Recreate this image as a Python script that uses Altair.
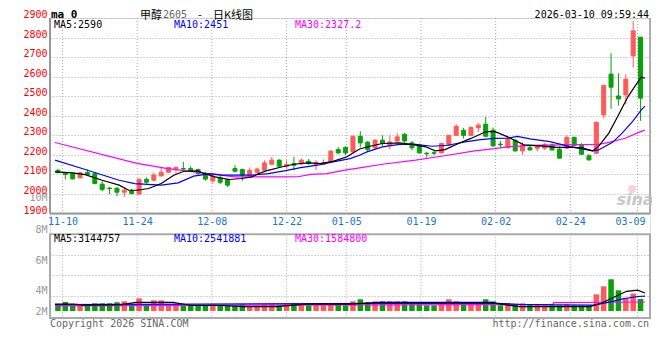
import altair as alt
import pandas as pd

# ---------------- data ----------------
# trading-day index: 0 = 2025-11-07 ... 79 = 2026-03-10
days = list(range(80))
opens = [2121, 2110, 2104, 2082, 2110, 2104, 2050, 2030, 2029, 2009,
         2015, 1999, 2075, 2070, 2092, 2111, 2127, 2130, 2130, 2125,
         2105, 2067, 2082, 2074, 2130, 2125, 2096, 2111, 2121, 2152,
         2173, 2142, 2155, 2155, 2167, 2152, 2152, 2164, 2227, 2238,
         2215, 2295, 2265, 2236, 2275, 2249, 2271, 2305, 2261, 2249,
         2208, 2211, 2210, 2249, 2300, 2326, 2300, 2338, 2357, 2326,
         2255, 2238, 2273, 2220, 2238, 2234, 2234, 2251, 2229, 2234,
         2289, 2248, 2195, 2208, 2404, 2613, 2501, 2507, 2706, 2802]
highs = [2128, 2112, 2108, 2113, 2125, 2110, 2065, 2036, 2036, 2036,
         2025, 2084, 2084, 2110, 2133, 2138, 2142, 2164, 2142, 2130,
         2113, 2096, 2092, 2079, 2147, 2130, 2135, 2135, 2172, 2190,
         2177, 2172, 2190, 2181, 2179, 2172, 2176, 2224, 2241, 2244,
         2300, 2321, 2271, 2280, 2300, 2300, 2312, 2312, 2270, 2258,
         2215, 2227, 2261, 2300, 2357, 2338, 2346, 2363, 2394, 2340,
         2271, 2294, 2282, 2265, 2251, 2251, 2260, 2258, 2243, 2299,
         2294, 2260, 2205, 2367, 2558, 2720, 2618, 2612, 2885, 2802]
lows = [2105, 2074, 2075, 2080, 2097, 2050, 2014, 1999, 1988, 1985,
        1997, 1999, 2053, 2068, 2090, 2108, 2104, 2124, 2115, 2099,
        2068, 2053, 2050, 2036, 2111, 2067, 2094, 2104, 2118, 2150,
        2135, 2130, 2121, 2147, 2150, 2121, 2150, 2162, 2203, 2198,
        2213, 2238, 2215, 2227, 2245, 2227, 2258, 2261, 2224, 2208,
        2186, 2198, 2208, 2247, 2300, 2284, 2298, 2317, 2290, 2240,
        2234, 2230, 2217, 2200, 2222, 2217, 2225, 2222, 2183, 2230,
        2243, 2200, 2172, 2205, 2387, 2435, 2452, 2459, 2647, 2374]
closes = [2110, 2100, 2077, 2108, 2100, 2053, 2023, 2027, 2009, 2019,
          2002, 2074, 2060, 2097, 2111, 2135, 2135, 2127, 2118, 2104,
          2076, 2091, 2060, 2045, 2116, 2096, 2121, 2127, 2159, 2173,
          2142, 2150, 2147, 2173, 2155, 2162, 2160, 2219, 2210, 2210,
          2295, 2261, 2227, 2275, 2258, 2266, 2292, 2271, 2236, 2210,
          2205, 2208, 2258, 2300, 2346, 2300, 2340, 2352, 2295, 2246,
          2251, 2282, 2220, 2251, 2225, 2246, 2254, 2225, 2183, 2289,
          2248, 2203, 2174, 2367, 2555, 2546, 2486, 2587, 2834, 2490]
# volume, millions of lots
volumes = [1.16, 1.55, 0.98, 1.16, 0.98, 1.33, 1.33, 1.33, 1.50, 1.67,
           1.16, 2.19, 1.16, 1.84, 1.84, 1.16, 1.16, 1.16, 0.98, 0.98,
           0.98, 1.16, 0.98, 0.98, 0.98, 1.16, 0.98, 0.98, 1.16, 1.16,
           0.98, 1.16, 1.33, 1.16, 0.98, 1.16, 0.98, 1.33, 1.16, 0.98,
           1.67, 2.02, 1.50, 1.67, 1.67, 1.67, 1.67, 1.67, 1.33, 1.33,
           0.98, 0.98, 1.50, 2.02, 1.67, 1.50, 1.50, 1.50, 2.02, 1.67,
           0.98, 1.33, 1.16, 1.33, 1.16, 1.16, 0.98, 0.98, 0.98, 1.16,
           0.98, 0.98, 0.98, 2.88, 4.26, 5.47, 3.57, 2.14, 3.00, 2.07]

# moving-average lines as drawn (day position, value)
ma5_day = [-0.4, 2.0, 3.7, 6.0, 8.3, 9.6, 10.7, 12.3, 14.0, 15.7, 17.1, 18.9, 19.6, 21.3,
           23.2, 24.9, 26.3, 27.2, 28.5, 30.3, 32.0, 33.9, 35.6, 37.3, 39.2, 39.9, 40.9,
           42.3, 44.0, 46.3, 48.0, 49.9, 51.2, 52.5, 54.3, 56.0, 57.9, 59.2, 60.9, 63.2,
           65.3, 67.6, 69.9, 71.2, 72.5, 73.3, 74.7, 76.0, 77.3, 78.5, 79.1, 79.6]
ma5_val = [2113, 2108, 2099, 2070, 2045, 2019, 2019, 2028, 2053, 2096, 2116, 2118, 2108, 2087,
           2074, 2079, 2087, 2104, 2121, 2138, 2152, 2159, 2155, 2167, 2190, 2207, 2230,
           2244, 2258, 2261, 2254, 2241, 2220, 2227, 2258, 2284, 2317, 2320, 2293, 2251,
           2246, 2238, 2238, 2234, 2220, 2243, 2311, 2404, 2498, 2566, 2597, 2592]
ma10_day = [-0.4, 3.7, 8.3, 10.4, 14.0, 16.3, 18.4, 20.7, 22.3, 26.3, 28.5, 30.7, 32.9, 35.2,
            37.3, 39.6, 40.9, 41.9, 44.0, 46.3, 48.5, 50.7, 52.9, 55.2, 57.3, 59.2, 60.9,
            62.3, 64.0, 66.7, 69.3, 72.5, 73.3, 75.2, 76.5, 77.9, 79.1, 79.6]
ma10_val = [2173, 2125, 2070, 2053, 2045, 2057, 2091, 2104, 2096, 2096, 2104, 2118, 2135, 2147,
            2164, 2181, 2198, 2215, 2241, 2254, 2254, 2244, 2249, 2266, 2278, 2284, 2285,
            2294, 2282, 2268, 2243, 2220, 2225, 2264, 2311, 2370, 2430, 2449]
ma30_day = [-0.4, 10.7, 14.9, 20.3, 24.0, 30.5, 32.5, 34.3, 36.5, 38.7, 40.9, 44.0, 48.5,
            52.0, 56.5, 59.2, 60.9, 64.0, 68.5, 73.3, 74.7, 76.9, 79.1, 79.6]
ma30_val = [2263, 2156, 2130, 2104, 2087, 2087, 2088, 2100, 2104, 2121, 2133, 2152, 2173,
            2193, 2220, 2232, 2241, 2248, 2251, 2254, 2264, 2285, 2320, 2327]

vma5_day = [-0.4, 2.1, 3.6, 8.6, 10.6, 15.6, 18.1, 22.1, 25.1, 29.6, 33.6, 39.6, 43.6, 58.6,
            60.6, 62.6, 72.1, 73.6, 75.6, 77.1, 78.6, 79.6]
vma5_val = [1.2, 1.2, 1.0, 1.1, 1.5, 1.5, 0.95, 0.95, 0.75, 0.75, 1.2, 1.2, 1.5, 1.5,
            1.1, 0.75, 0.75, 1.3, 2.5, 3.4, 3.6, 3.1]
vma10_day = [-0.4, 19.6, 45.6, 59.6, 62.6, 67.6, 72.6, 74.6, 76.6, 78.6, 79.6]
vma10_val = [1.1, 1.2, 1.3, 1.3, 1.15, 1.05, 1.0, 1.5, 2.1, 2.5, 2.55]
vma30_day = [-0.4, 24.6, 44.6, 67.1, 67.2, 79.6]
vma30_val = [0.9, 1.0, 1.05, 1.1, 1.45, 1.55]

axis_dates = ["11-10", "11-24", "12-08", "12-22", "01-05", "01-19", "02-02", "02-24", "03-09"]
axis_date_idx = [1, 11, 21, 31, 39, 49, 59, 69, 78]
price_ticks = [1900, 2000, 2100, 2200, 2300, 2400, 2500, 2600, 2700, 2800, 2900]
vol_label_text = ["2M", "4M", "6M", "8M", "10M"]
vol_label_at = [0, 3.62, 8.79, 13.97, 19.55]
vol_grid_at = [2.638, 6.155, 9.655]

# ---------------- styling ----------------
RED, GREEN = "#ff5a5a", "#0aa00a"
BLUE_LBL = "#1874cd"
GRID = "#aaaaaa"
MONO = "DejaVu Sans Mono"
CJK = "Noto Sans CJK SC"
W, H = 600, 300
PB = 195.5          # bottom of price panel
VT, VB = 216.3, 300  # volume panel

df = pd.DataFrame(dict(day=days, open=opens, high=highs, low=lows, close=closes, vol=volumes))
df["dir"] = ["up" if c >= o else "down" for o, c in zip(opens, closes)]

grid_days = [round(i * 80 / 79 - 0.4, 3) for i in axis_date_idx]
lab_expr = " : ".join(f"datum.value == {g} ? '{t}'" for g, t in zip(grid_days, axis_dates)) + " : ''"
last_test = f"datum.value > {grid_days[-2] + 1}"

xs = alt.Scale(domain=[-0.4, 79.6], nice=False, zero=False)
xaxis = alt.Axis(values=grid_days, labelExpr=lab_expr, grid=False, domain=False, ticks=False,
                 labelColor=BLUE_LBL, labelFont=MONO, labelFontSize=10, labelPadding=0,
                 offset=-102, labelFlush=False, labelOverlap=False, title=None,
                 labelAlign={"condition": {"test": last_test, "value": "right"}, "value": "center"},
                 labelOffset={"condition": {"test": last_test, "value": 7.6}, "value": 0})
X = alt.X("day:Q", scale=xs, axis=xaxis, title=None)


def PS():
    return alt.Scale(domain=[1900, 2900], range=[PB, 0], nice=False, zero=False)


def VS():
    return alt.Scale(domain=[0, 20], range=[293, 177], nice=False, zero=False)


price_axis = alt.Axis(values=price_ticks, orient="left", grid=True, gridColor=GRID, gridDash=[1, 2],
                      gridWidth=1, domain=False, ticks=False, labelColor="#ff0000", labelFont=MONO,
                      labelFontSize=10, labelPadding=3, labelOffset=-3.5, title=None, format="d",
                      labelOverlap=False, labelFlush=False)

vol_expr = " : ".join(f"datum.value == {v} ? '{t}'" for v, t in zip(vol_label_at, vol_label_text)) + " : ''"
grid_test = " || ".join(f"datum.value == {g}" for g in vol_grid_at)
vol_axis = alt.Axis(values=vol_grid_at + vol_label_at, orient="left", grid=True, gridColor=GRID,
                    gridDash=[1, 2], gridWidth=1,
                    gridOpacity={"condition": {"test": grid_test, "value": 1}, "value": 0},
                    labelExpr=vol_expr, domain=False, ticks=False, labelColor="#999999",
                    labelFont=MONO, labelFontSize=10, labelPadding=3, title=None,
                    labelOverlap=False, labelFlush=False)

COL = alt.Color("dir:N", scale=alt.Scale(domain=["up", "down"], range=[RED, GREEN]), legend=None)
STR = alt.Stroke("dir:N", scale=alt.Scale(domain=["up", "down"], range=[RED, GREEN]), legend=None)

gdf = pd.DataFrame({"day": grid_days})
vgrid_main = alt.Chart(gdf).mark_rule(color=GRID, strokeDash=[1, 2], strokeWidth=1).encode(
    x=X, y=alt.value(0), y2=alt.value(PB))
vgrid_vol = alt.Chart(gdf).mark_rule(color=GRID, strokeDash=[1, 2], strokeWidth=1).encode(
    x=X, y=alt.value(VT), y2=alt.value(VB))

vol_bars = alt.Chart(df).mark_bar(size=5.5).encode(
    x=X, y=alt.Y("vol:Q", scale=VS(), axis=vol_axis, stack=None), color=COL)
wicks = alt.Chart(df).mark_rule(strokeWidth=1).encode(
    x=X, y=alt.Y("low:Q", scale=PS(), axis=price_axis), y2="high:Q", color=COL)
bodies = alt.Chart(df).mark_bar(size=4, strokeWidth=1).encode(
    x=X, y=alt.Y("open:Q", scale=PS(), axis=None), y2="close:Q", color=COL, stroke=STR)

lines = []
for d, v, c in [(ma30_day, ma30_val, "#ff00ff"), (ma10_day, ma10_val, "#0000ff"), (ma5_day, ma5_val, "#000000")]:
    lines.append(alt.Chart(pd.DataFrame({"day": d, "v": v})).mark_line(color=c, strokeWidth=1.2).encode(
        x=X, y=alt.Y("v:Q", scale=PS(), axis=None)))
for d, v, c in [(vma30_day, vma30_val, "#ff00ff"), (vma10_day, vma10_val, "#0000ff"), (vma5_day, vma5_val, "#000000")]:
    lines.append(alt.Chart(pd.DataFrame({"day": d, "v": v})).mark_line(color=c, strokeWidth=1.2).encode(
        x=X, y=alt.Y("v:Q", scale=VS(), axis=None)))

one = pd.DataFrame({"a": [0]})
borders = [
    alt.Chart(one).mark_rule(color="#999999", strokeWidth=2).encode(x=alt.value(0), y=alt.value(0), y2=alt.value(PB)),
    alt.Chart(one).mark_rule(color="#999999", strokeWidth=2).encode(x=alt.value(0), x2=alt.value(W), y=alt.value(PB)),
    alt.Chart(one).mark_rule(color="#999999", strokeWidth=1.5).encode(x=alt.value(W), y=alt.value(0), y2=alt.value(PB)),
    alt.Chart(one).mark_rect(fillOpacity=0, stroke="#aaaaaa", strokeWidth=2).encode(
        x=alt.value(0), x2=alt.value(W), y=alt.value(VT), y2=alt.value(VB)),
]


def txt(s, x, y, color="#000000", size=10, font=MONO, align="left", weight="normal", style="normal", opacity=1):
    return alt.Chart(one).mark_text(text=s, align=align, baseline="middle", font=font, fontSize=size,
                                    fontWeight=weight, fontStyle=style, color=color, opacity=opacity).encode(
        x=alt.value(x), y=alt.value(y))


texts = [
    txt("ma 0", 1, -3, size=11, weight="bold"),
    txt("甲醇", 90, -2.5, size=11, font=CJK),
    txt("2605", 113, -3, color="#666666", size=10),
    txt("-", 150, -2.5, size=11, font=CJK, align="center"),
    txt("日K线图", 163, -2.5, size=11, font=CJK),
    txt("2026-03-10 09:59:44", 599, -3, align="right"),
    txt("MA5:2590", 4, 7),
    txt("MA10:2451", 124, 7, color="#0000ff"),
    txt("MA30:2327.2", 245, 7, color="#ff00ff"),
    txt("MA5:3144757", 4, 221),
    txt("MA10:2541881", 124, 221, color="#0000ff"),
    txt("MA30:1584800", 245, 221, color="#ff00ff"),
    txt("Copyright 2026 SINA.COM", 0, 306, color="#666666"),
    txt("http://finance.sina.com.cn", 599, 306, color="#666666", align="right"),
    txt("sina", 585, 182, color="#bbbbbb", size=16, font="DejaVu Sans", align="center",
        weight="bold", style="italic", opacity=0.8),
]
logo = alt.Chart(one).mark_point(shape="circle", size=70, filled=True, color="#f4aaaa", opacity=0.5).encode(
    x=alt.value(582), y=alt.value(171))

chart = alt.layer(
    vgrid_main, vgrid_vol, vol_bars, wicks, bodies, *lines, *borders, logo, *texts
).resolve_scale(y="independent").properties(
    width=W, height=H,
    padding={"left": 42, "top": 10, "right": 2, "bottom": 16},
    autosize=alt.AutoSizeParams(type="none"),
).configure_view(stroke=None).configure(background="white")

chart.save("out.html", embed_options={"renderer": "svg", "actions": False})
